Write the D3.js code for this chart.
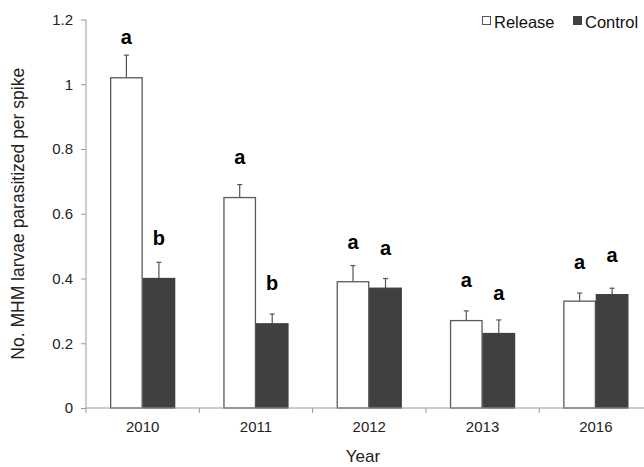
<!DOCTYPE html>
<html>
<head>
<meta charset="utf-8">
<script src="https://cdn.jsdelivr.net/npm/d3@7"></script>
<style>
  html, body { margin: 0; padding: 0; background: #fff; }
  svg { display: block; font-family: "Liberation Sans", Arial, sans-serif; }
</style>
</head>
<body>
<svg id="chart" width="644" height="467"></svg>
<script>
// Mean number of MHM larvae parasitized per spike, by year and treatment
const years = ["2010", "2011", "2012", "2013", "2016"];
const seriesNames = ["Release", "Control"];
const releaseMean = [1.02, 0.65, 0.39, 0.27, 0.33];
const releaseErr  = [0.07, 0.04, 0.05, 0.03, 0.025];
const controlMean = [0.40, 0.26, 0.37, 0.23, 0.35];
const controlErr  = [0.05, 0.03, 0.03, 0.042, 0.02];
// Significance letters and the height (in axis units) where each sits
const releaseLetters = ["a", "a", "a", "a", "a"];
const controlLetters = ["b", "b", "a", "a", "a"];
const releaseLetterY = [1.123, 0.754, 0.492, 0.374, 0.430];
const controlLetterY = [0.502, 0.366, 0.473, 0.333, 0.451];
const yTicks = [0, 0.2, 0.4, 0.6, 0.8, 1.0, 1.2];

const svg = d3.select("#chart");
const plotLeft = 86, plotBottom = 408, plotTop = 19.5;
const catW = 113.3;
const groupW = 65;

const x0 = d3.scaleBand().domain(years).range([plotLeft, plotLeft + catW * years.length]).padding(0);
const x1 = d3.scaleBand().domain(seriesNames)
  .range([(x0.bandwidth() - groupW) / 2, (x0.bandwidth() + groupW) / 2]).padding(0);
const y = d3.scaleLinear().domain([0, 1.2]).range([plotBottom, plotTop]);

const rows = years.map((yr, i) => ({
  year: yr,
  bars: [
    { key: "Release", v: releaseMean[i], e: releaseErr[i], letter: releaseLetters[i], ly: releaseLetterY[i] },
    { key: "Control", v: controlMean[i], e: controlErr[i], letter: controlLetters[i], ly: controlLetterY[i] }
  ]
}));

const axisColor = "#9a9a9a";

// y axis
const yAxis = svg.append("g").attr("transform", `translate(${plotLeft},0)`)
  .call(d3.axisLeft(y).tickValues(yTicks).tickFormat(d3.format("~g")).tickSize(5).tickPadding(8));
yAxis.select(".domain").attr("stroke", axisColor).attr("d", `M0,${plotBottom}V${plotTop}`);
yAxis.selectAll(".tick line").attr("stroke", axisColor);
yAxis.selectAll(".tick text").attr("fill", "#222").style("font-size", "15px")
  .style("font-family", "'Liberation Sans', Arial, sans-serif");

// bars
const groups = svg.append("g").selectAll("g").data(rows).join("g")
  .attr("transform", d => `translate(${x0(d.year)},0)`);

// error bars (upper half only)
groups.selectAll("g.err").data(d => d.bars).join("g").attr("class", "err")
  .each(function(d) {
    const g = d3.select(this);
    const cx = x1(d.key) + x1.bandwidth() / 2;
    g.append("line").attr("x1", cx).attr("x2", cx)
      .attr("y1", y(d.v)).attr("y2", y(d.v + d.e))
      .attr("stroke", "#555").attr("stroke-width", 1.2);
    g.append("line").attr("x1", cx - 2.5).attr("x2", cx + 2.5)
      .attr("y1", y(d.v + d.e)).attr("y2", y(d.v + d.e))
      .attr("stroke", "#555").attr("stroke-width", 1.2);
  });

groups.selectAll("rect").data(d => d.bars).join("rect")
  .attr("x", d => x1(d.key) + 0.5)
  .attr("width", x1.bandwidth() - 1)
  .attr("y", d => y(d.v))
  .attr("height", d => y(0) - y(d.v))
  .attr("fill", d => d.key === "Release" ? "#ffffff" : "#404040")
  .attr("stroke", d => d.key === "Release" ? "#595959" : "#404040")
  .attr("stroke-width", 1.3);

// significance letters
groups.selectAll("text.sig").data(d => d.bars).join("text").attr("class", "sig")
  .attr("x", d => x1(d.key) + x1.bandwidth() / 2)
  .attr("y", d => y(d.ly))
  .attr("text-anchor", "middle")
  .style("font-size", "20px").style("font-weight", "bold").attr("fill", "#000")
  .text(d => d.letter);

// x axis: baseline with ticks at category boundaries
const xg = svg.append("g");
xg.append("line").attr("x1", plotLeft).attr("x2", x0.range()[1])
  .attr("y1", plotBottom).attr("y2", plotBottom).attr("stroke", axisColor);
const bounds = years.map(yr => x0(yr)).concat([x0.range()[1]]);
xg.selectAll("line.tk").data(bounds).join("line").attr("class", "tk")
  .attr("x1", d => d).attr("x2", d => d)
  .attr("y1", plotBottom).attr("y2", plotBottom + 5).attr("stroke", axisColor);
xg.selectAll("text").data(years).join("text")
  .attr("x", d => x0(d) + x0.bandwidth() / 2)
  .attr("y", 432)
  .attr("text-anchor", "middle")
  .style("font-size", "15px").attr("fill", "#222")
  .text(d => d);

// axis titles
svg.append("text").attr("x", 363).attr("y", 462).attr("text-anchor", "middle")
  .style("font-size", "17px").attr("fill", "#222").text("Year");
svg.append("text").attr("transform", `translate(24,${(plotTop + plotBottom) / 2}) rotate(-90)`)
  .attr("text-anchor", "middle").style("font-size", "17.5px").attr("fill", "#222")
  .text("No. MHM larvae parasitized per spike");

// legend
const legend = svg.append("g");
const legendItems = [
  { key: "Release", x: 482, fill: "#fff", stroke: "#555" },
  { key: "Control", x: 573, fill: "#404040", stroke: "#404040" }
];
legendItems.forEach(it => {
  legend.append("rect").attr("x", it.x + 0.5).attr("y", 16.5).attr("width", 8).attr("height", 8)
    .attr("fill", it.fill).attr("stroke", it.stroke).attr("stroke-width", 1);
  legend.append("text").attr("x", it.x + 12).attr("y", 27.5)
    .style("font-size", "16.5px").attr("fill", "#111").text(it.key);
});
</script>
</body>
</html>
